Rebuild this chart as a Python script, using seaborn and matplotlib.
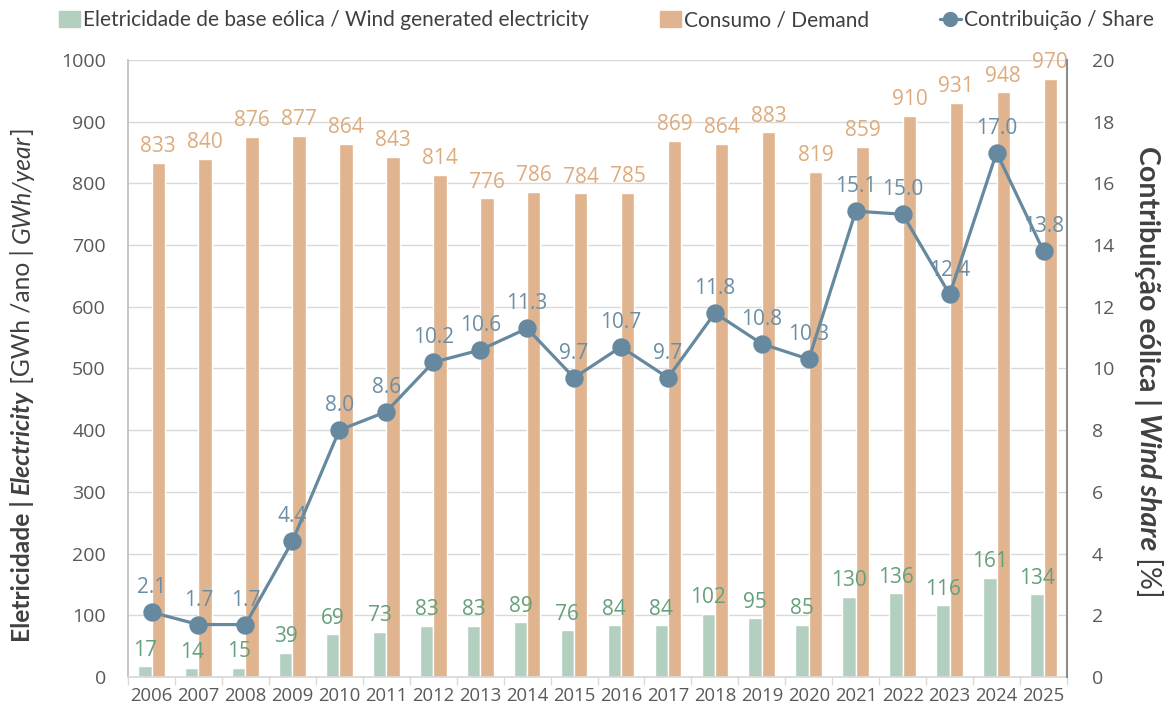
import numpy as np
import pandas as pd
import matplotlib
matplotlib.use("Agg")
import matplotlib.pyplot as plt
import seaborn as sns
from matplotlib.patches import Patch
from matplotlib.lines import Line2D

# ─── DATA ─────────────────────────────────────────────────
years = [str(y) for y in range(2006, 2026)]
wind = [17, 14, 15, 39, 69, 73, 83, 83, 89, 76, 84, 84, 102, 95, 85, 130, 136, 116, 161, 134]
demand = [833, 840, 876, 877, 864, 843, 814, 776, 786, 784, 785, 869, 864, 883, 819, 859, 910, 931, 948, 970]
share = [2.1, 1.7, 1.7, 4.4, 8.0, 8.6, 10.2, 10.6, 11.3, 9.7, 10.7, 9.7, 11.8, 10.8, 10.3, 15.1, 15.0, 12.4, 17.0, 13.8]

WIND_LABEL = "Eletricidade de base eólica / Wind generated electricity"
DEMAND_LABEL = "Consumo / Demand"
SHARE_LABEL = "Contribuição / Share"

# ─── STYLE ────────────────────────────────────────────────
C_WIND = "#B3CFC0"
C_DEMAND = "#DFB48F"
C_LINE = "#66899F"
C_WIND_TXT = "#64A07B"
C_DEMAND_TXT = "#DDAB7C"
C_LINE_TXT = "#6A8EA6"
C_TICK = "#595959"
C_GRID = "#D9D9D9"

sns.set_theme(style="white")
plt.rcParams["font.family"] = ["Open Sans", "DejaVu Sans"]

df = pd.DataFrame({
    "year": years * 2,
    "value": wind + demand,
    "serie": [WIND_LABEL] * len(years) + [DEMAND_LABEL] * len(years),
})

fig = plt.figure(figsize=(11.64, 7.10), dpi=100)
ax = fig.add_axes([0.110, 0.0465, 0.8067, 0.869])

sns.barplot(data=df, x="year", y="value", hue="serie",
            hue_order=[WIND_LABEL, DEMAND_LABEL],
            palette=[C_WIND, C_DEMAND], width=0.57, gap=0,
            saturation=1, ax=ax, legend=False)

ax.set_ylim(0, 1000)
ax.set_yticks(np.arange(0, 1001, 100))
ax.set_xlim(-0.5, len(years) - 0.5)
ax.yaxis.grid(True, color=C_GRID, linewidth=1)
ax.set_axisbelow(True)
ax.set_xlabel("")
ax.set_ylabel("")
ax.tick_params(axis="y", labelsize=14, labelcolor=C_TICK, length=0, pad=16)
ax.tick_params(axis="x", labelsize=13.3, labelcolor=C_TICK, length=0, pad=7)
ax.set_xticks(np.arange(-0.5, len(years), 1), minor=True)
ax.tick_params(axis="x", which="minor", length=6, color=C_GRID, width=1, bottom=True)
for s in ["top", "right"]:
    ax.spines[s].set_visible(False)
ax.spines["left"].set_color("#BFBFBF")
ax.spines["bottom"].set_color(C_GRID)

ax.bar_label(ax.containers[0], padding=4, color=C_WIND_TXT, fontsize=15)
ax.bar_label(ax.containers[1], padding=4, color=C_DEMAND_TXT, fontsize=15)

# ─── SHARE LINE ───────────────────────────────────────────
ax2 = ax.twinx()
sns.pointplot(x=years, y=share, ax=ax2, color=C_LINE, markers="o",
              markersize=11.5, linewidth=2.3)
ax2.set_ylim(0, 20)
ax2.set_xlim(-0.5, len(years) - 0.5)
ax2.set_yticks(np.arange(0, 21, 2))
ax2.tick_params(axis="y", labelsize=14, labelcolor=C_TICK, length=0, pad=18)
ax2.tick_params(axis="x", bottom=False, labelbottom=False)
ax2.grid(False)
for s in ["top", "left", "bottom"]:
    ax2.spines[s].set_visible(False)
ax2.spines["right"].set_color("#8C8C8C")
ax2.spines["right"].set_linewidth(1.5)

for i, v in enumerate(share):
    ax2.annotate(f"{v:.1f}", (i, v), xytext=(0, 10), textcoords="offset points",
                 ha="center", va="bottom", color=C_LINE_TXT, fontsize=15)

# ─── LEGEND ───────────────────────────────────────────────
handles = [Patch(color=C_WIND), Patch(color=C_DEMAND),
           Line2D([0], [0], color=C_LINE, marker="o", markersize=10, linewidth=2.3)]
fig.legend(handles, [WIND_LABEL, DEMAND_LABEL, SHARE_LABEL], loc="upper center",
           bbox_to_anchor=(0.521, 1.012), ncol=3, frameon=False,
           prop={"family": "Lato", "size": 15}, labelcolor="#404040",
           handlelength=1.0, handleheight=0.8, handletextpad=0.15, columnspacing=3.4)


# ─── MIXED-STYLE AXIS LABELS ──────────────────────────────
def rich_label(x, yc, pieces, rotation, size):
    renderer = fig.canvas.get_renderer()
    H = fig.bbox.height
    texts = []
    for txt, weight, style in pieces:
        t = fig.text(0, 0, txt, rotation=rotation, rotation_mode="anchor",
                     ha="left", va="center", fontsize=size, fontweight=weight,
                     fontstyle=style, color="#404040", family="Lato")
        texts.append(t)
    lens = [t.get_window_extent(renderer).height for t in texts]
    total = sum(lens)
    if rotation == 90:
        pos = yc - total / 2
        for t, L in zip(texts, lens):
            t.set_position((x, pos / H))
            pos += L
    else:
        pos = yc + total / 2
        for t, L in zip(texts, lens):
            t.set_position((x, pos / H))
            pos -= L


rich_label(22 / 1164, 325, [
    ("Eletricidade | ", "bold", "normal"),
    ("Electricity", "bold", "italic"),
    (" [GWh /ano | ", "normal", "normal"),
    ("GWh/year", "normal", "italic"),
    ("]", "normal", "normal"),
], 90, 17.7)

rich_label(1148 / 1164, 338, [
    ("Contribuição eólica | ", "bold", "normal"),
    ("Wind share", "bold", "italic"),
    (" [%]", "normal", "normal"),
], -90, 20.5)

fig.savefig("out.png", dpi=100)
